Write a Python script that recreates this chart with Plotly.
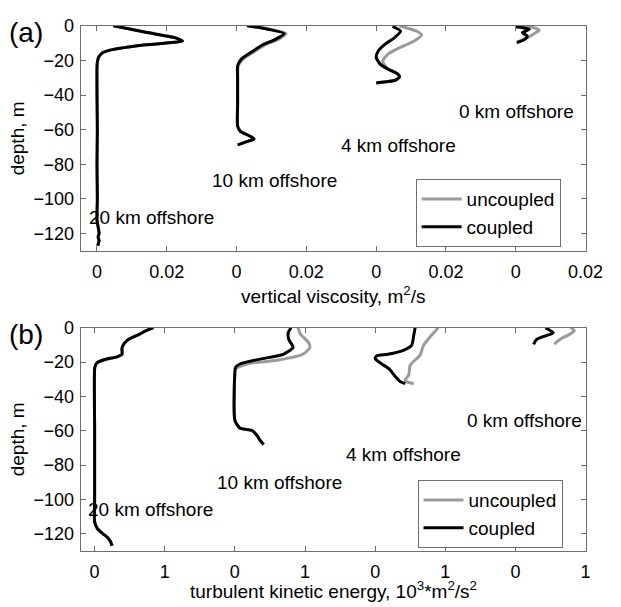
import plotly.graph_objects as go

W, H = 621, 607

# ---------------- data ----------------
station_labels = ["20 km offshore", "10 km offshore", "4 km offshore", "0 km offshore"]
visc_offsets = [0.0, 0.04, 0.08, 0.12]   # m^2/s shift of each station profile
tke_offsets = [0.0, 2.0, 4.0, 6.0]       # 10^3 m^2/s^2 shift of each station profile

visc_tickvals = [0, 0.02, 0.04, 0.06, 0.08, 0.10, 0.12, 0.14]
visc_ticktext = ["0", "0.02", "0", "0.02", "0", "0.02", "0", "0.02"]
tke_tickvals = [0, 1, 2, 3, 4, 5, 6, 7]
tke_ticktext = ["0", "1", "0", "1", "0", "1", "0", "1"]
depth_tickvals = [-120, -100, -80, -60, -40, -20, 0]
depth_ticktext = ["\u2212120", "\u2212100", "\u221280", "\u221260", "\u221240", "\u221220", "0"]

# (a) vertical viscosity, m^2/s
visc20_depth = [0, -3.8, -7, -8.8, -11, -13.8, -15.5, -18, -21, -24, -40, -60, -80, -100, -112, -117, -120, -122, -124, -127]
visc20_coupled = [0.0047, 0.014, 0.0225, 0.0245, 0.014, 0.0044, 0.0017, 0.0005, 0.0001, 0.0, 0.0, 0.0001, 0.0, 0.0001, 0.0, 0.0004, 0.0006, 0.0003, 0.0006, 0.0002]
visc20_uncoupled = [0.0047, 0.014, 0.0225, 0.0245, 0.014, 0.0044, 0.0017, 0.0005, 0.0001, 0.0, 0.0, 0.0001, 0.0, 0.0001, 0.0, 0.0004, 0.0006, 0.0003, 0.0006, 0.0002]

visc10_depth = [0, -2, -4.5, -8, -11, -15, -19, -23, -30, -45, -58, -61, -63.5, -65.3, -66.5, -68.8]
visc10_coupled = [0.003, 0.009, 0.0136, 0.011, 0.0075, 0.0044, 0.0015, 0.0003, 0.0003, 0.0003, 0.0003, 0.0011, 0.0036, 0.005, 0.0036, 0.0003]
visc10_uncoupled = [0.0033, 0.0095, 0.0142, 0.0118, 0.0082, 0.005, 0.002, 0.0005, 0.0003, 0.0003, 0.0003, 0.0011, 0.0036, 0.005, 0.0036, 0.0003]

visc4_depth_c = [-0.4, -3.2, -6.8, -10.8, -14.6, -18.2, -22, -25, -27.8, -29.5, -31.6, -32.6, -33]
visc4_coupled = [0.0047, 0.007, 0.0053, 0.0025, 0.0006, 0.0, 0.0011, 0.0033, 0.0061, 0.0067, 0.0053, 0.0014, 0.0]
visc4_depth_u = [0, -3.2, -5.3, -8.9, -12.5, -16.5, -20.3, -23, -25, -27.8, -29.5, -31.6, -32.6, -33]
visc4_uncoupled = [0.0067, 0.0117, 0.013, 0.0108, 0.0069, 0.0033, 0.0019, 0.0025, 0.0035, 0.0062, 0.0068, 0.0055, 0.0016, 0.0002]

visc0_depth_c = [-0.6, -2, -4, -6, -8, -9.7]
visc0_coupled = [0.0, 0.0039, 0.0019, 0.0033, 0.0025, 0.0003]
visc0_depth_u = [0, -0.9, -2.6, -4.5, -6.3, -8, -9.4]
visc0_uncoupled = [0.0006, 0.0047, 0.0067, 0.0053, 0.0039, 0.0019, 0.0006]

# (b) turbulent kinetic energy, 10^3 m^2/s^2
tke20_depth = [0, -2, -4, -6, -7.5, -10, -12, -15.5, -17, -18.5, -20, -21.5, -24, -60, -100, -113, -117, -120, -122, -124, -127]
tke20_coupled = [0.84, 0.72, 0.63, 0.52, 0.46, 0.41, 0.39, 0.39, 0.32, 0.15, 0.05, 0.015, 0.0, 0.0, 0.0, 0.0, 0.04, 0.12, 0.18, 0.22, 0.25]
tke20_uncoupled = [0.84, 0.72, 0.63, 0.52, 0.46, 0.41, 0.39, 0.39, 0.32, 0.15, 0.05, 0.015, 0.0, 0.0, 0.0, 0.0, 0.04, 0.12, 0.18, 0.22, 0.25]

tke10_depth_c = [0, -3, -7, -11.5, -15.5, -18.3, -21, -23, -26, -54, -58.4, -60, -63, -65, -68]
tke10_coupled = [0.80, 0.76, 0.77, 0.83, 0.69, 0.36, 0.08, 0.01, 0.0, 0.0, 0.07, 0.25, 0.32, 0.35, 0.41]
tke10_depth_u = [0, -4, -8.6, -11.5, -15.5, -19, -21, -24, -26, -54, -58.4, -60, -63, -65, -68]
tke10_uncoupled = [0.90, 0.94, 1.05, 1.07, 0.97, 0.60, 0.18, 0.01, 0.0, 0.0, 0.07, 0.25, 0.32, 0.35, 0.41]

tke4_depth_c = [0, -4.6, -10.3, -13, -15.5, -16.5, -18, -21, -24, -28.6, -31.5, -32.6]
tke4_coupled = [0.57, 0.55, 0.52, 0.41, 0.18, 0.02, 0.0, 0.09, 0.20, 0.29, 0.36, 0.43]
tke4_depth_u = [0, -4.6, -10.3, -16, -21.8, -27.5, -30.4, -31.5, -32.6]
tke4_uncoupled = [0.90, 0.80, 0.69, 0.64, 0.50, 0.48, 0.43, 0.45, 0.55]

tke0_depth_c = [0, -3, -4.6, -6.9, -9.7]
tke0_coupled = [0.43, 0.54, 0.44, 0.30, 0.26]
tke0_depth_u = [0, -1.7, -4.6, -5.7, -8.6, -9.7]
tke0_uncoupled = [0.79, 0.84, 0.74, 0.68, 0.58, 0.56]

visc_profiles = [
    (visc20_depth, visc20_uncoupled, visc20_depth, visc20_coupled),
    (visc10_depth, visc10_uncoupled, visc10_depth, visc10_coupled),
    (visc4_depth_u, visc4_uncoupled, visc4_depth_c, visc4_coupled),
    (visc0_depth_u, visc0_uncoupled, visc0_depth_c, visc0_coupled),
]
tke_profiles = [
    (tke20_depth, tke20_uncoupled, tke20_depth, tke20_coupled),
    (tke10_depth_u, tke10_uncoupled, tke10_depth_c, tke10_coupled),
    (tke4_depth_u, tke4_uncoupled, tke4_depth_c, tke4_coupled),
    (tke0_depth_u, tke0_uncoupled, tke0_depth_c, tke0_coupled),
]

# label anchor positions (left edge / vertical centre of each label, in axis units)
visc_label_x = [-0.0028, 0.0325, 0.0694, 0.1033]
visc_label_y = [-110.8, -89.2, -69.3, -49.4]
tke_label_x = [-0.12, 1.72, 3.56, 5.28]
tke_label_y = [-106, -89.9, -73.9, -53.8]

# ---------------- figure ----------------
GRAY = "#9a9a9a"
BLACK = "#000000"
FONT = "Liberation Sans, Arial, Helvetica, sans-serif"
fig = go.Figure()

def add_panel(profiles, offsets, xa, ya, legend_name):
    for i, (du, vu, dc, vc) in enumerate(profiles):
        off = offsets[i]
        fig.add_trace(go.Scatter(
            x=[v + off for v in vu], y=du, mode="lines",
            line=dict(color=GRAY, width=3, shape="spline", smoothing=0.6),
            name="uncoupled", showlegend=(i == 0), legend=legend_name,
            xaxis=xa, yaxis=ya))
        fig.add_trace(go.Scatter(
            x=[v + off for v in vc], y=dc, mode="lines",
            line=dict(color=BLACK, width=3, shape="spline", smoothing=0.6),
            name="coupled", showlegend=(i == 0), legend=legend_name,
            xaxis=xa, yaxis=ya))

add_panel(visc_profiles, visc_offsets, "x", "y", "legend")
add_panel(tke_profiles, tke_offsets, "x2", "y2", "legend2")

x0, x1 = 83 / W, 603 / W
ya_dom = [(H - 245) / H, (H - 16) / H]
yb_dom = [(H - 550) / H, (H - 323) / H]

axis_common = dict(showline=True, linecolor="#6e6e6e", linewidth=1, mirror="ticks",
                   ticks="inside", ticklen=5, tickcolor="#6e6e6e", showgrid=False,
                   zeroline=False, tickfont=dict(family=FONT, size=18, color="black"))

fig.update_layout(
    width=W, height=H, margin=dict(l=0, r=0, t=0, b=0),
    paper_bgcolor="white", plot_bgcolor="white",
    font=dict(family=FONT, size=18, color="black"),
    xaxis=dict(domain=[x0, x1], anchor="y", range=[-0.0047, 0.14],
               tickvals=visc_tickvals, ticktext=visc_ticktext, ticklabelstandoff=4, **axis_common),
    yaxis=dict(domain=ya_dom, anchor="x", range=[-130, 0],
               tickvals=depth_tickvals, ticktext=depth_ticktext, ticklabelstandoff=2, **axis_common),
    xaxis2=dict(domain=[x0, x1], anchor="y2", range=[-0.2, 7],
                tickvals=tke_tickvals, ticktext=tke_ticktext, ticklabelstandoff=4, **axis_common),
    yaxis2=dict(domain=yb_dom, anchor="x2", range=[-130, 0],
                tickvals=depth_tickvals, ticktext=depth_ticktext, ticklabelstandoff=2, **axis_common),
    legend=dict(x=428 / W, y=1 - 172 / H, xanchor="left", yanchor="top",
                bordercolor="#6e6e6e", borderwidth=1, bgcolor="white",
                font=dict(family=FONT, size=19, color="black"), itemwidth=40),
    legend2=dict(x=430 / W, y=1 - 478 / H, xanchor="left", yanchor="top",
                 bordercolor="#6e6e6e", borderwidth=1, bgcolor="white",
                 font=dict(family=FONT, size=19, color="black"), itemwidth=40),
)

ann = []
for i, lab in enumerate(station_labels):
    ann.append(dict(x=visc_label_x[i], y=visc_label_y[i], xref="x", yref="y", text=lab,
                    showarrow=False, xanchor="left", yanchor="middle",
                    font=dict(family=FONT, size=19, color="black")))
    ann.append(dict(x=tke_label_x[i], y=tke_label_y[i], xref="x2", yref="y2", text=lab,
                    showarrow=False, xanchor="left", yanchor="middle",
                    font=dict(family=FONT, size=19, color="black")))

def paper_text(x, y, text, size=19, angle=0):
    return dict(x=x / W, y=1 - y / H, xref="paper", yref="paper", text=text,
                showarrow=False, xanchor="center", yanchor="middle", textangle=angle,
                font=dict(family=FONT, size=size, color="black"))

ann += [
    paper_text(27, 23, "(a)", 28),
    paper_text(27, 330, "(b)", 28),
    paper_text(18, 130, "depth, m", 19, -90),
    paper_text(18, 436, "depth, m", 19, -90),
    paper_text(343, 290, "vertical viscosity, m<sup>2</sup>/s"),
    paper_text(343, 590, "turbulent kinetic energy, 10<sup>3</sup>*m<sup>2</sup>/s<sup>2</sup>"),
]
fig.update_layout(annotations=ann)

fig.write_html("out.html")
